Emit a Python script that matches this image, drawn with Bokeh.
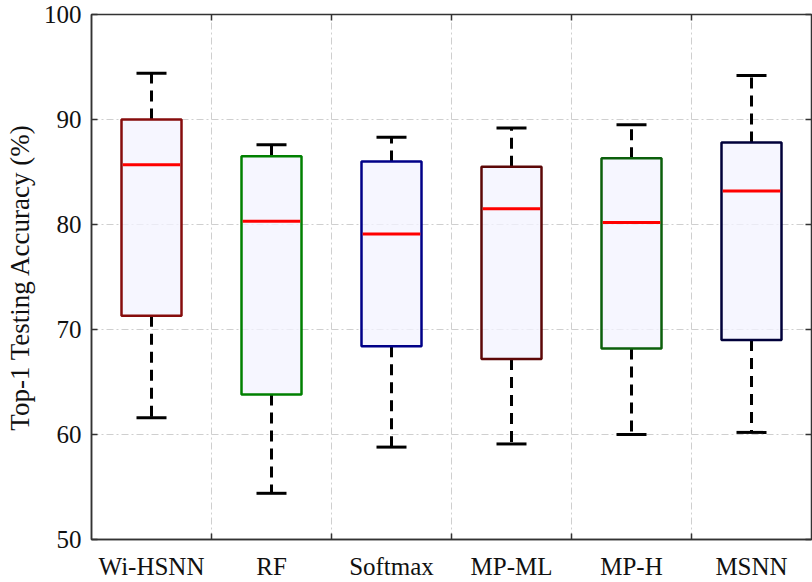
import numpy as np
from bokeh.plotting import figure
from bokeh.models import FixedTicker, LinearAxis, Range1d
from bokeh.embed import file_html
from bokeh.resources import INLINE

# Five-number summaries of top-1 testing accuracy (%) per method
methods = ["Wi-HSNN", "RF", "Softmax", "MP-ML", "MP-H", "MSNN"]
lower_whisker = [61.6, 54.4, 58.8, 59.1, 60.0, 60.2]
q1 = [71.3, 63.8, 68.4, 67.2, 68.2, 69.0]
median = [85.7, 80.3, 79.1, 81.5, 80.2, 83.2]
q3 = [90.0, 86.5, 86.0, 85.5, 86.3, 87.8]
upper_whisker = [94.4, 87.6, 88.3, 89.2, 89.5, 94.2]
y_ticks = [50, 60, 70, 80, 90, 100]

edge_colors = ["#860c0c", "#008000", "#000088", "#5c0707", "#0b5f0b", "#00003a"]

FONT = "Liberation Serif"
x = np.arange(1, len(methods) + 1, dtype=float)
bounds = list(x[:-1] + 0.5)
box_w = 0.5
cap_w = 0.25

p = figure(width=812, height=582, output_backend="svg", toolbar_location=None,
           x_range=Range1d(0.5, len(methods) + 0.5), y_range=Range1d(50, 100),
           min_border_left=91, min_border_right=1, min_border_top=14, min_border_bottom=37)
p.background_fill_color = "white"
p.border_fill_color = "white"
p.outline_line_color = "#333333"
p.outline_line_width = 1.5

# grid lines between categories and at y ticks
p.xgrid.ticker = FixedTicker(ticks=bounds)
p.ygrid.ticker = FixedTicker(ticks=y_ticks)
for g in (p.xgrid, p.ygrid):
    g.grid_line_color = "#cfcfcf"
    g.grid_line_dash = "7 3 2 3"
    g.grid_line_width = 1

# bottom axis: labels at category centres, tick marks at boundaries
xa = p.xaxis[0]
xa.ticker = FixedTicker(ticks=list(x), minor_ticks=bounds)
xa.major_label_overrides = {float(v): m for v, m in zip(x, methods)}
xa.major_label_overrides.update({int(v): m for v, m in zip(x, methods)})
xa.major_tick_in = 0
xa.major_tick_out = 0
xa.minor_tick_in = 6
xa.minor_tick_out = 0
xa.major_label_standoff = 13

ya = p.yaxis[0]
ya.ticker = FixedTicker(ticks=y_ticks)
ya.major_tick_in = 6
ya.major_tick_out = 0
ya.minor_tick_line_color = None
ya.major_label_standoff = 10
ya.axis_label = "Top-1 Testing Accuracy (%)"
ya.axis_label_standoff = 6

for ax in (xa, ya):
    ax.axis_line_color = "#333333"
    ax.axis_line_width = 1.5
    ax.major_tick_line_color = "#333333"
    ax.minor_tick_line_color = "#333333" if ax is xa else None
    ax.major_tick_line_width = 1.5
    ax.minor_tick_line_width = 1.5
    ax.major_label_text_font = FONT
    ax.major_label_text_font_size = "25px"
    ax.major_label_text_color = "#111111"
    ax.axis_label_text_font = FONT
    ax.axis_label_text_font_size = "27px"
    ax.axis_label_text_font_style = "normal"
    ax.axis_label_text_color = "#111111"

# mirrored ticks on top and right
top = LinearAxis(ticker=FixedTicker(ticks=[], minor_ticks=bounds),
                 major_label_text_font_size="0px", minor_tick_in=6, minor_tick_out=0,
                 major_tick_in=0, major_tick_out=0, axis_line_color=None,
                 minor_tick_line_color="#333333", minor_tick_line_width=1.5)
right = LinearAxis(ticker=FixedTicker(ticks=y_ticks), major_label_text_font_size="0px",
                   major_label_text_color=None, major_tick_in=6, major_tick_out=0,
                   axis_line_color=None, major_tick_line_color="#333333",
                   major_tick_line_width=1.5, minor_tick_line_color=None)
p.add_layout(top, "above")
p.add_layout(right, "right")

# whiskers (dashed) from box edge to caps
p.segment(x0=x, x1=x, y0=q3, y1=upper_whisker, line_color="black", line_width=3,
          line_dash="11 7")
p.segment(x0=x, x1=x, y0=q1, y1=lower_whisker, line_color="black", line_width=3,
          line_dash="11 7")
# caps
p.segment(x0=x - cap_w / 2, x1=x + cap_w / 2, y0=upper_whisker, y1=upper_whisker,
          line_color="black", line_width=3)
p.segment(x0=x - cap_w / 2, x1=x + cap_w / 2, y0=lower_whisker, y1=lower_whisker,
          line_color="black", line_width=3)

# boxes
p.vbar(x=x, bottom=q1, top=q3, width=box_w, fill_color="#f3f3ff", fill_alpha=0.75,
       line_color=edge_colors, line_width=2.5)

# medians
p.segment(x0=x - box_w / 2 + 0.01, x1=x + box_w / 2 - 0.01, y0=median, y1=median,
          line_color="#ff0000", line_width=3)

open("out.html", "w").write(file_html(p, INLINE))
